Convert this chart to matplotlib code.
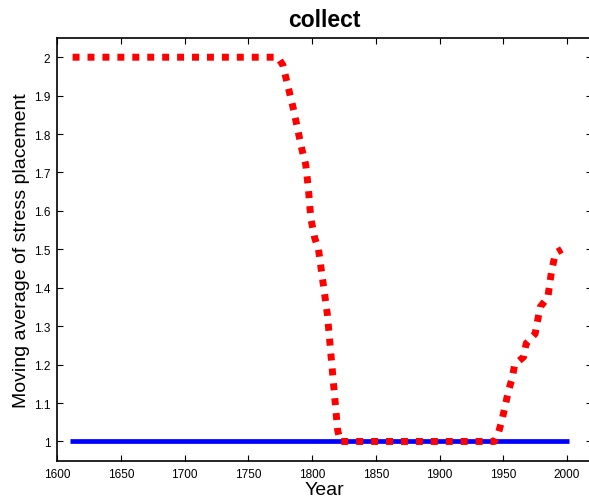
import matplotlib
matplotlib.use("Agg")
import matplotlib.pyplot as plt

plt.rcParams['font.family'] = ['Liberation Sans', 'DejaVu Sans']

# Data
red_years = [1612, 1773, 1777, 1785, 1792, 1795, 1797, 1799, 1802, 1805,
             1812, 1820, 1822, 1943, 1946, 1949, 1954, 1957, 1959, 1966,
             1968, 1975, 1979, 1985, 1988, 1991, 1996]
red_values = [2.0, 2.0, 1.98, 1.87, 1.76, 1.72, 1.66, 1.58, 1.53, 1.50,
              1.33, 1.03, 1.0, 1.0, 1.02, 1.055, 1.13, 1.165, 1.20, 1.22,
              1.255, 1.28, 1.35, 1.375, 1.445, 1.49, 1.5]
blue_years = [1610, 2002]
blue_values = [1.0, 1.0]

xticks = [1600, 1650, 1700, 1750, 1800, 1850, 1900, 1950, 2000]
yticks = [1, 1.1, 1.2, 1.3, 1.4, 1.5, 1.6, 1.7, 1.8, 1.9, 2]
ytick_labels = ['1', '1.1', '1.2', '1.3', '1.4', '1.5', '1.6', '1.7', '1.8', '1.9', '2']

fig = plt.figure(figsize=(5.89, 5.02), dpi=100)
ax = fig.add_axes([0.0973, 0.0803, 0.9085, 0.842])

ax.plot(blue_years, blue_values, color='#0000ff', linewidth=3.4, solid_capstyle='butt', zorder=2)
ax.plot(red_years, red_values, color='#ff0000', linewidth=5, linestyle=(0, (1, 1.15)),
        dash_capstyle='butt', zorder=3)

ax.set_xlim(1600, 2020)
ax.set_ylim(0.95, 2.05)
ax.set_xticks(xticks)
ax.set_yticks(yticks)
ax.set_yticklabels(ytick_labels)
ax.tick_params(direction='in', length=4, width=0.8, labelsize=8.5, top=True, right=True, pad=5)
for s in ax.spines.values():
    s.set_linewidth(1.2)

ax.set_xlabel('Year', fontsize=14, labelpad=1)
ax.set_ylabel('Moving average of stress placement', fontsize=14, labelpad=3)
ax.set_title('collect', fontsize=16.5, fontweight='bold', pad=9)

fig.savefig('out.png', dpi=100)
